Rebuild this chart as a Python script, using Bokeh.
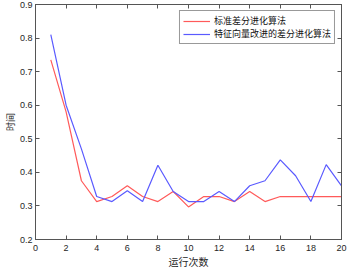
from bokeh.plotting import figure
from bokeh.models import (LinearAxis, Range1d, FixedTicker, Legend, LegendItem,
                          CustomLabelingPolicy)
from bokeh.embed import file_html
from bokeh.resources import INLINE

runs = list(range(1, 21))
standard_de = [0.735, 0.58, 0.375, 0.313, 0.328, 0.36, 0.328, 0.313, 0.343, 0.297,
               0.328, 0.328, 0.313, 0.343, 0.313, 0.328, 0.328, 0.328, 0.328, 0.328]
improved_de = [0.81, 0.60, 0.47, 0.328, 0.313, 0.345, 0.313, 0.421, 0.343, 0.313,
               0.313, 0.343, 0.313, 0.36, 0.375, 0.437, 0.39, 0.313, 0.423, 0.36]
x_ticks = list(range(0, 21, 2))
y_ticks = [0.2, 0.3, 0.4, 0.5, 0.6, 0.7, 0.8, 0.9]
series_names = ["标准差分进化算法", "特征向量改进的差分进化算法"]
x_label = "运行次数"
y_label = "时间"

TICK_FONT = "Liberation Sans"
CJK_FONT = "Noto Sans CJK SC"
AXIS_COLOR = "#555555"

p = figure(width=347, height=271, output_backend="svg", toolbar_location=None,
           x_range=Range1d(0, 20), y_range=Range1d(0.2, 0.9),
           min_border_left=30, min_border_right=6, min_border_top=4, min_border_bottom=28,
           x_axis_location=None, y_axis_location=None)
p.grid.visible = False
p.outline_line_color = AXIS_COLOR
p.background_fill_color = "white"
p.border_fill_color = "white"

r1 = p.line(runs, standard_de, line_color="#ff5a5a", line_width=1.2)
r2 = p.line(runs, improved_de, line_color="#5a5aff", line_width=1.2)

hide_all = CustomLabelingPolicy(code="""
for (let i = 0; i < indices.size; i++) indices.unset(i)
return indices
""")

def mk_axis(ticks, show_labels):
    ax = LinearAxis(ticker=FixedTicker(ticks=ticks))
    ax.axis_line_color = AXIS_COLOR
    ax.major_tick_line_color = AXIS_COLOR
    ax.major_tick_in = 4
    ax.major_tick_out = 0
    ax.minor_tick_line_color = None
    ax.major_label_text_font = TICK_FONT
    ax.major_label_text_font_size = "9px"
    ax.major_label_text_color = "#262626"
    ax.major_label_standoff = 4
    if not show_labels:
        ax.major_label_policy = hide_all
        ax.major_label_text_font_size = "0px"
        ax.major_label_standoff = 0
    return ax

xb = mk_axis(x_ticks, True)
xb.axis_label = x_label
xb.axis_label_text_font = CJK_FONT
xb.axis_label_text_font_size = "10px"
xb.axis_label_text_font_style = "normal"
xb.axis_label_text_color = "#262626"
xb.axis_label_standoff = 0
xb.major_label_standoff = 5
p.add_layout(xb, "below")

yl = mk_axis(y_ticks, True)
yl.axis_label = y_label
yl.axis_label_text_font = CJK_FONT
yl.axis_label_text_font_size = "9px"
yl.axis_label_text_font_style = "normal"
yl.axis_label_text_color = "#262626"
yl.axis_label_standoff = 0
yl.major_label_standoff = 3
p.add_layout(yl, "left")

p.add_layout(mk_axis(x_ticks, False), "above")
p.add_layout(mk_axis(y_ticks, False), "right")

legend = Legend(items=[LegendItem(label=series_names[0], renderers=[r1]),
                       LegendItem(label=series_names[1], renderers=[r2])],
                location="top_right")
legend.label_text_font = CJK_FONT
legend.label_text_font_size = "9px"
legend.label_text_color = "#111111"
legend.label_height = 10
legend.glyph_height = 10
legend.glyph_width = 27
legend.spacing = 0
legend.padding = 3
legend.margin = 6
legend.label_standoff = 4
legend.border_line_color = "#333333"
legend.background_fill_alpha = 1.0
p.add_layout(legend, "center")

open("out.html", "w").write(file_html(p, INLINE))
